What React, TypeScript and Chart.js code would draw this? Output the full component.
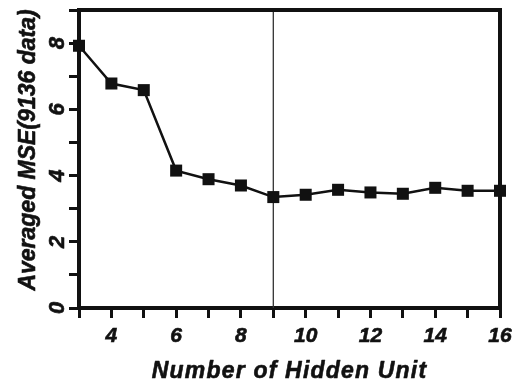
import React, { useEffect, useRef } from 'react';
import { Chart, registerables } from 'chart.js';

Chart.register(...registerables);

const hiddenUnits = [3, 4, 5, 6, 7, 8, 9, 10, 11, 12, 13, 14, 15, 16];
const averagedMSE = [7.92, 6.78, 6.58, 4.15, 3.89, 3.7, 3.35, 3.42, 3.57, 3.49, 3.45, 3.63, 3.54, 3.54];
const xTickLabels = [4, 6, 8, 10, 12, 14, 16];
const yTickLabels = [0, 2, 4, 6, 8];
const markerUnit = 9;
const xTitle = 'Number of Hidden Unit';
const yTitle = 'Averaged MSE(9136 data)';
const X_MIN = 3;
const X_MAX = 16;
const Y_MIN = 0;
const Y_MAX = 9;

const FAMILY = '"Liberation Sans", Arial, Helvetica, sans-serif';
const INK = '#111111';

const decorPlugin = {
  id: 'decor',
  beforeDatasetsDraw(chart: any) {
    const { ctx, chartArea, scales } = chart;
    const px = scales.x.getPixelForValue(markerUnit);
    ctx.save();
    ctx.strokeStyle = '#333333';
    ctx.lineWidth = 1.3;
    ctx.beginPath();
    ctx.moveTo(px, chartArea.top);
    ctx.lineTo(px, chartArea.bottom);
    ctx.stroke();
    ctx.restore();
  },
  afterDraw(chart: any) {
    const { ctx, chartArea, scales } = chart;
    ctx.save();
    // top and right frame
    ctx.strokeStyle = INK;
    ctx.lineWidth = 4;
    ctx.lineCap = 'square';
    ctx.beginPath();
    ctx.moveTo(chartArea.left, chartArea.top);
    ctx.lineTo(chartArea.right, chartArea.top);
    ctx.lineTo(chartArea.right, chartArea.bottom);
    ctx.stroke();

    ctx.fillStyle = INK;
    ctx.strokeStyle = INK;
    ctx.lineWidth = 0.6;
    ctx.lineCap = 'butt';
    ctx.lineJoin = 'round';

    // rotated y tick labels
    ctx.font = `italic bold 22px ${FAMILY}`;
    ctx.textAlign = 'center';
    ctx.textBaseline = 'alphabetic';
    for (const v of yTickLabels) {
      const py = scales.y.getPixelForValue(v);
      ctx.save();
      ctx.translate(chartArea.left - 15, py);
      ctx.rotate(-Math.PI / 2);
      ctx.fillText(String(v), 0, 0);
      ctx.strokeText(String(v), 0, 0);
      ctx.restore();
    }

    // y title
    ctx.font = `italic bold 23px ${FAMILY}`;
    ctx.save();
    ctx.translate(35, (chartArea.top + chartArea.bottom) / 2 - 9);
    ctx.rotate(-Math.PI / 2);
    ctx.fillText(yTitle, 0, 0);
    ctx.strokeText(yTitle, 0, 0);
    ctx.restore();

    // x title
    ctx.save();
    (ctx as any).letterSpacing = '1.2px';
    const cx = (chartArea.left + chartArea.right) / 2;
    ctx.fillText(xTitle, cx, 378);
    ctx.strokeText(xTitle, cx, 378);
    ctx.restore();

    ctx.restore();
  },
};

export default function App() {
  const canvasRef = useRef<HTMLCanvasElement | null>(null);

  useEffect(() => {
    document.body.style.margin = '0';
    const canvas = canvasRef.current;
    if (!canvas) return;
    const chart = new Chart(canvas, {
      type: 'line',
      data: {
        datasets: [
          {
            data: hiddenUnits.map((u, i) => ({ x: u, y: averagedMSE[i] })),
            borderColor: INK,
            backgroundColor: INK,
            borderWidth: 2.5,
            pointStyle: 'rect',
            pointRadius: 8.5,
            pointBorderWidth: 0,
            pointBackgroundColor: INK,
            tension: 0,
            clip: false as any,
          },
        ],
      },
      options: {
        animation: false,
        responsive: true,
        maintainAspectRatio: false,
        layout: { padding: { top: 10, right: 12, left: 0, bottom: 0 } },
        plugins: {
          legend: { display: false },
          tooltip: { enabled: false },
        },
        scales: {
          x: {
            type: 'linear',
            min: X_MIN,
            max: X_MAX,
            afterFit: (s: any) => {
              s.height = 77;
              s.paddingRight = 0;
              s.paddingLeft = 0;
            },
            border: { display: true, width: 4, color: INK },
            grid: {
              display: true,
              drawOnChartArea: false,
              drawTicks: true,
              tickLength: 10,
              tickWidth: 3,
              tickColor: INK,
            },
            ticks: {
              stepSize: 1,
              autoSkip: false,
              maxRotation: 0,
              minRotation: 0,
              padding: 6,
              color: INK,
              textStrokeColor: INK,
              textStrokeWidth: 0.6,
              font: { family: FAMILY, size: 21, style: 'italic', weight: 'bold' },
              callback: (v: any) => (xTickLabels.includes(Number(v)) ? String(v) : ''),
            } as any,
          },
          y: {
            type: 'linear',
            min: Y_MIN,
            max: Y_MAX,
            afterFit: (s: any) => {
              s.width = 79;
              s.paddingTop = 0;
              s.paddingBottom = 0;
            },
            border: { display: true, width: 4, color: INK },
            grid: {
              display: true,
              drawOnChartArea: false,
              drawTicks: true,
              tickLength: 10,
              tickWidth: 3,
              tickColor: INK,
            },
            ticks: {
              display: false,
              stepSize: 1,
            },
          },
        },
      },
      plugins: [decorPlugin],
    });
    return () => chart.destroy();
  }, []);

  return (
    <div style={{ position: 'relative', width: 512, height: 385 }}>
      <canvas ref={canvasRef} />
    </div>
  );
}
